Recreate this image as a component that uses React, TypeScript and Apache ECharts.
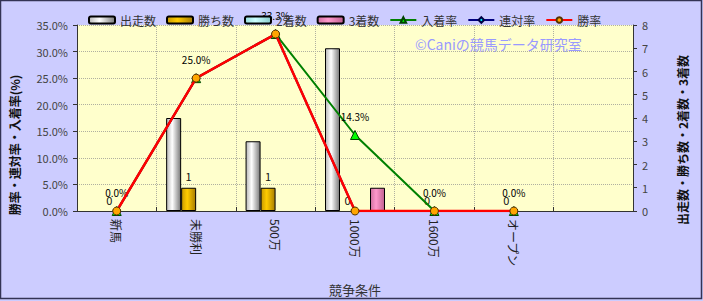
import React, { useEffect, useRef } from "react";
import * as echarts from "echarts";

const categories = ["新馬", "未勝利", "500万", "1000万", "1600万", "オープン", ""];
const starts = [0, 4, 3, 7, 0, 0, null];
const wins = [0, 1, 1, 0, 0, 0, null];
const seconds = [0, 0, 0, 0, 0, 0, null];
const thirds = [0, 0, 0, 1, 0, 0, null];
const placeRate = [0.0, 25.0, 33.3, 14.3, 0.0, 0.0, null];
const quinellaRate = [0.0, 25.0, 33.3, 0.0, 0.0, 0.0, null];
const winRate = [0.0, 25.0, 33.3, 0.0, 0.0, 0.0, null];
const leftTicks = { min: 0, max: 35, interval: 5 };
const rightTicks = { min: 0, max: 8, interval: 1 };

const FONT = "'Noto Sans CJK JP', 'Noto Sans', sans-serif";

const hGrad = (a: string, b: string, c: string) =>
  new echarts.graphic.LinearGradient(0, 0, 1, 0, [
    { offset: 0, color: a },
    { offset: 0.4, color: b },
    { offset: 1, color: c },
  ]);

// zero-height bars: keep the value (and label) but draw no outline
const barData = (arr: (number | null)[]) =>
  arr.map((v) =>
    v === 0
      ? { value: 0, itemStyle: { color: "transparent", borderColor: "transparent", borderWidth: 0 } }
      : v
  );

export default function App() {
  const ref = useRef<HTMLDivElement>(null);
  useEffect(() => {
    if (!ref.current) return;
    const chart = echarts.init(ref.current, null, { renderer: "svg" });
    const barBase = {
      type: "bar",
      xAxisIndex: 0,
      yAxisIndex: 1,
      barWidth: 15,
      barGap: "0%",
    };
    chart.setOption({
      animation: false,
      backgroundColor: "#CCCCFF",
      textStyle: { fontFamily: FONT },
      grid: {
        left: 77,
        right: 70,
        top: 25,
        bottom: 88,
        show: true,
        backgroundColor: "#FFFFCC",
        borderWidth: 0,
      },
      legend: {
        left: 83,
        top: 9,
        itemWidth: 26,
        itemHeight: 7,
        itemGap: 10,
        textStyle: { fontSize: 12, color: "#333", fontFamily: FONT },
        data: ["出走数", "勝ち数", "2着数", "3着数", "入着率", "連対率", "勝率"],
      },
      xAxis: {
        type: "category",
        data: categories,
        boundaryGap: true,
        axisLine: { show: true, lineStyle: { color: "#333", width: 1 } },
        axisTick: { show: true, inside: true, length: 4, lineStyle: { color: "#333" } },
        axisLabel: { rotate: -90, interval: 0, fontSize: 12, color: "#222", margin: 8, fontFamily: FONT },
        splitLine: { show: true, lineStyle: { color: "#b0b0a0", type: "dotted" } },
        name: "競争条件",
        nameLocation: "middle",
        nameGap: 72,
        nameTextStyle: { fontSize: 13, color: "#333", fontFamily: FONT },
      },
      yAxis: [
        {
          type: "value",
          position: "left",
          ...leftTicks,
          axisLine: { show: true, lineStyle: { color: "#333" } },
          axisTick: { show: true, length: 4, lineStyle: { color: "#333" } },
          axisLabel: {
            formatter: (v: number) => v.toFixed(1) + "%",
            color: "#444",
            fontSize: 11,
            margin: 9,
            fontFamily: FONT,
          },
          splitLine: { show: true, lineStyle: { color: "#b0b0a0", type: "dotted" } },
          name: "勝率・連対率・入着率(%)",
          nameLocation: "middle",
          nameRotate: 90,
          nameGap: 57,
          nameTextStyle: { fontSize: 12, fontWeight: "bold", color: "#111", fontFamily: FONT, padding: [0, 54, 0, 0] },
        },
        {
          type: "value",
          position: "right",
          ...rightTicks,
          axisLine: { show: true, lineStyle: { color: "#333" } },
          axisTick: { show: true, length: 4, lineStyle: { color: "#333" } },
          axisLabel: { color: "#444", fontSize: 11, margin: 9, fontFamily: FONT },
          splitLine: { show: false },
          name: "出走数・勝ち数・2着数・3着数",
          nameLocation: "middle",
          nameRotate: 90,
          nameGap: 43,
          nameTextStyle: { fontSize: 12, fontWeight: "bold", color: "#111", fontFamily: FONT, padding: [0, 44, 0, 0] },
        },
      ],
      graphic: [
        {
          type: "text",
          x: 415,
          y: 44,
          style: {
            text: "©Caniの競馬データ研究室",
            fill: "#9999FF",
            fontSize: 14,
            fontFamily: FONT,
            verticalAlign: "middle",
          },
        },
        {
          type: "rect",
          shape: { x: 0.5, y: 0.5, width: 701, height: 298 },
          style: { fill: "none", stroke: "#333355", lineWidth: 1.5 },
          silent: true,
        },
      ],
      series: [
        {
          ...barBase,
          name: "出走数",
          data: barData(starts),
          itemStyle: { color: hGrad("#b8b8b8", "#ffffff", "#7a7a7a"), borderColor: "#000", borderWidth: 1 },
        },
        {
          ...barBase,
          name: "勝ち数",
          data: barData(wins),
          itemStyle: { color: hGrad("#c89a00", "#ffcc00", "#a87c00"), borderColor: "#000", borderWidth: 1 },
          label: { show: true, position: "top", distance: 6, fontSize: 11, color: "#111", fontFamily: FONT },
        },
        {
          ...barBase,
          name: "2着数",
          data: barData(seconds),
          itemStyle: { color: hGrad("#99dddd", "#ccffff", "#88cccc"), borderColor: "#000", borderWidth: 1 },
        },
        {
          ...barBase,
          name: "3着数",
          data: barData(thirds),
          itemStyle: { color: hGrad("#d070a0", "#ff99cc", "#c06090"), borderColor: "#000", borderWidth: 1 },
        },
        {
          type: "line",
          name: "入着率",
          yAxisIndex: 0,
          data: placeRate,
          symbol: "triangle",
          symbolSize: 9,
          lineStyle: { color: "#008000", width: 2 },
          itemStyle: { color: "#00FF00", borderColor: "#004400", borderWidth: 1 },
          label: {
            show: true,
            position: "top",
            distance: 9,
            fontSize: 10,
            color: "#000",
            fontFamily: FONT,
            formatter: (p: any) => (p.value == null ? "" : Number(p.value).toFixed(1) + "%"),
          },
          z: 3,
        },
        {
          type: "line",
          name: "連対率",
          yAxisIndex: 0,
          data: quinellaRate,
          symbol: "diamond",
          symbolSize: 8,
          lineStyle: { color: "#000080", width: 2 },
          itemStyle: { color: "#00FFFF", borderColor: "#000044", borderWidth: 1 },
          z: 4,
        },
        {
          type: "line",
          name: "勝率",
          yAxisIndex: 0,
          data: winRate,
          symbol: "circle",
          symbolSize: 8,
          lineStyle: { color: "#FF0000", width: 2.5 },
          itemStyle: { color: "#FFA500", borderColor: "#553300", borderWidth: 1 },
          z: 5,
        },
      ],
    });
    return () => chart.dispose();
  }, []);
  return (
    <div
      ref={ref}
      style={{ position: "fixed", left: 0, top: 0, width: 703, height: 301 }}
    />
  );
}
